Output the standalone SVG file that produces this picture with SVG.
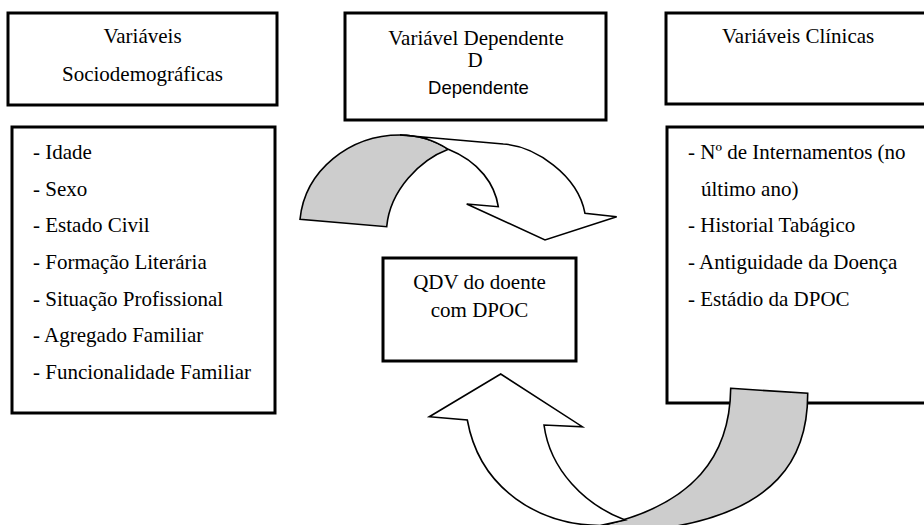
<svg xmlns="http://www.w3.org/2000/svg" width="924" height="525" viewBox="0 0 924 525">
<style>
.box{fill:#fff;stroke:#000;stroke-width:3}
.t{font-family:'Liberation Serif','DejaVu Serif',serif;font-size:21px;fill:#000}
.c{text-anchor:middle}
.s{font-family:'Liberation Sans',Arial,sans-serif;font-size:18.5px;fill:#000;text-anchor:middle}
.ag{fill:#cdcdcd;stroke:#000;stroke-width:1.6;stroke-linejoin:miter}
.aw{fill:#fff;stroke:#000;stroke-width:1.6;stroke-linejoin:miter}
</style>
<rect width="924" height="525" fill="#fff"/>
<g id="sociodemo-header">
<rect class="box" x="8" y="13" width="269" height="92"/>
<text class="t c" font-family="Liberation Serif, serif" x="142.5" y="43">Variáveis</text>
<text class="t c" font-family="Liberation Serif, serif" x="142.5" y="81">Sociodemográficas</text>
</g>
<g id="dependente-header">
<rect class="box" x="345" y="13" width="261" height="107"/>
<text class="t c" font-family="Liberation Serif, serif" x="476" y="44.5">Variável Dependente</text>
<text class="t c" font-family="Liberation Serif, serif" x="475" y="66.7">D</text>
<text class="s" x="478.5" y="94">Dependente</text>
</g>
<g id="clinicas-header">
<rect class="box" x="666" y="13" width="262" height="91"/>
<text class="t" font-family="Liberation Serif, serif" x="722" y="43">Variáveis Clínicas</text>
</g>
<g id="sociodemo-list" font-family="Liberation Serif, serif">
<rect class="box" x="12" y="127" width="263" height="286"/>
<text class="t" x="33" y="159">- Idade</text>
<text class="t" x="33" y="195.7">- Sexo</text>
<text class="t" x="33" y="232.3">- Estado Civil</text>
<text class="t" x="33" y="269">- Formação Literária</text>
<text class="t" x="33" y="305.7">- Situação Profissional</text>
<text class="t" x="33" y="342.3">- Agregado Familiar</text>
<text class="t" x="33" y="379">- Funcionalidade Familiar</text>
</g>
<g id="clinicas-list" font-family="Liberation Serif, serif">
<rect class="box" x="667" y="127" width="262" height="276"/>
<text class="t" x="688" y="159">- Nº de Internamentos (no</text>
<text class="t" x="701" y="195.7">último ano)</text>
<text class="t" x="688" y="232.3">- Historial Tabágico</text>
<text class="t" x="688" y="269">- Antiguidade da Doença</text>
<text class="t" x="688" y="305.7">- Estádio da DPOC</text>
</g>
<g id="qdv">
<rect class="box" x="383" y="258" width="193" height="103"/>
<text class="t c" font-family="Liberation Serif, serif" x="479.5" y="289.3">QDV do doente</text>
<text class="t c" font-family="Liberation Serif, serif" x="479.5" y="316.7">com DPOC</text>
</g>
<g id="connectors">
<g id="arrow-top">
<path class="ag" d="M300,219.3 C305,170 350,135 400,135 C420,135 437,142 448.3,149.3 C420,160 390,190 386.7,226.7 Z"/>
<path class="aw" d="M400,135 L503.3,144 C535,146 578,175 585,213.3 L616.7,216.7 L545,240 L466.7,204 L498.3,206.7 C495,185 480,162 448.3,149.3 C437,142 420,135 400,135 Z"/>
</g>
<g id="arrow-bottom">
<path class="ag" d="M730.7,388.3 L807.7,393.3 C808,455 780,515 650,530 L600,526 C695,505 730,455 730.7,388.3 Z"/>
<path class="aw" d="M600,525.5 C540,525 480,490 467.3,420 L429.3,416.7 L500.7,374 L582.3,426.7 L544,425 C550,470 585,505 625,520 L600,525.5 Z"/>
</g>
</g>
</svg>
